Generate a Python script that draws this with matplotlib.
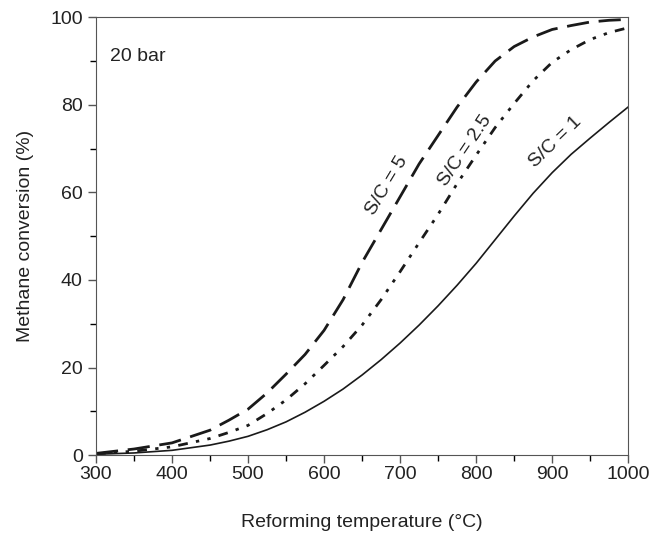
import numpy as np
import matplotlib
matplotlib.use('Agg')
from matplotlib import pyplot as plt

plt.rcParams['font.family'] = ['Liberation Sans', 'DejaVu Sans']

temp = [300, 350, 400, 450, 475, 500, 525, 550, 575, 600, 625, 650, 675, 700,
        725, 750, 775, 800, 825, 850, 875, 900, 925, 950, 975, 1000]
sc1 = [0.2, 0.5, 1.1, 2.3, 3.2, 4.3, 5.8, 7.6, 9.8, 12.3, 15.1, 18.3, 21.8, 25.6,
       29.7, 34.1, 38.8, 43.8, 49.2, 54.6, 59.8, 64.5, 68.7, 72.4, 76, 79.5]
sc25 = [0.3, 0.9, 1.9, 3.8, 5.2, 6.8, 9.5, 12.6, 16.3, 20.5, 24.8, 29.7, 35.5, 41.9,
        48.5, 55, 62, 68.5, 74.8, 80.3, 85.5, 89.7, 92.6, 94.9, 96.5, 97.6]
sc5 = [0.4, 1.4, 2.8, 5.7, 8, 10.5, 14.2, 18.5, 23, 28.5, 35.5, 44, 51.5, 59,
       66.5, 73, 79.5, 85.2, 90, 93.3, 95.5, 97.2, 98.1, 98.9, 99.3, 99.5]


def plot():
    fig = plt.figure(figsize=(6.53, 5.38), dpi=100)
    ax = fig.add_axes([0.147, 0.154, 0.815, 0.814])

    ax.plot(temp, sc1, color='#1a1a1a', lw=1.2)
    ax.plot(temp, sc25, color='#1a1a1a', lw=2, linestyle=(0, (3.5, 3, 1.2, 3, 1.2, 3)))
    ax.plot(temp, sc5, color='#1a1a1a', lw=2, linestyle=(0, (8, 3.5)))

    ax.set_xlim(300, 1000)
    ax.set_ylim(0, 100)
    ax.set_xticks(range(300, 1001, 100))
    ax.set_xticks(range(350, 1000, 100), minor=True)
    ax.set_yticks(range(0, 101, 20))
    ax.set_yticks(range(10, 100, 20), minor=True)
    ax.tick_params(labelsize=14, labelcolor='#222222', color='#555555', direction='out', length=6, width=1)
    ax.tick_params(axis='x', pad=2)
    ax.tick_params(which='minor', length=4, width=1)
    for s in ax.spines.values():
        s.set_color('#555555')

    ax.set_xlabel('Reforming temperature (°C)', fontsize=14, color='#222222', labelpad=22)
    ax.set_ylabel('Methane conversion (%)', fontsize=14, color='#222222', labelpad=12)

    ax.text(318, 91, '20 bar', fontsize=14, color='#222222', va='center')
    ax.text(683, 61.6, 'S/C = 5', fontsize=14, rotation=59, ha='center', va='center', color='#222222')
    ax.text(786, 69.6, 'S/C = 2.5', fontsize=14, rotation=56, ha='center', va='center', color='#222222')
    ax.text(904, 71.4, 'S/C = 1', fontsize=14, rotation=44, ha='center', va='center', color='#222222')

    fig.savefig('out.png', dpi=100)


if __name__ == '__main__':
    plot()
